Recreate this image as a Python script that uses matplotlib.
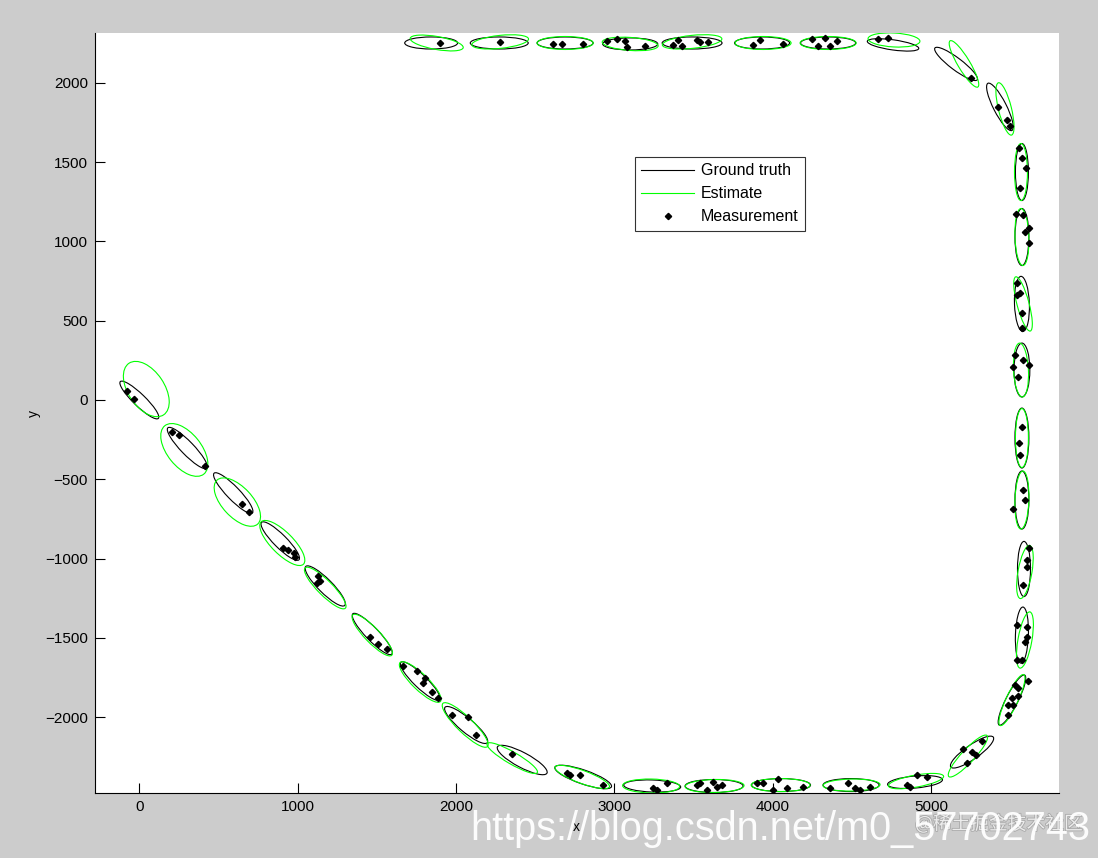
import numpy as np
import matplotlib
matplotlib.use('Agg')
import matplotlib.pyplot as plt
import matplotlib.patheffects as pe
from matplotlib.patches import Ellipse

# ground truth ellipses: centre, semi axes, angle (deg)
gt_x = [0, 303, 593, 890, 1174, 1471, 1774, 2064, 2418, 2803, 3239, 3630, 4053, 4495, 4899,
        5259, 5511, 5574, 5587, 5574, 5574, 5574, 5574, 5574, 5574, 5435, 5158, 4760, 4350,
        3933, 3491, 3100, 2689, 2273, 1843]
gt_y = [0, -303, -587, -890, -1173, -1476, -1773, -2050, -2271, -2378, -2435, -2435, -2429, -2429, -2410,
        -2221, -1893, -1483, -1066, -631, -240, 189, 606, 1028, 1438, 1849, 2120, 2240, 2252,
        2252, 2252, 2246, 2252, 2252, 2252]
gt_a = [167, 177, 174, 167, 174, 177, 170, 174, 177, 189, 180, 183, 186, 177, 174,
        164, 177, 177, 174, 183, 189, 170, 174, 180, 180, 167, 167, 164, 174,
        174, 189, 174, 177, 183, 167]
gt_b = [38, 41, 41, 41, 44, 41, 41, 44, 47, 44, 38, 41, 41, 41, 38,
        44, 38, 41, 41, 44, 44, 50, 47, 44, 41, 41, 38, 32, 38,
        38, 38, 38, 38, 38, 38]
gt_ang = [-44, -46, -46, -45, -45, -46, -44, -40, -28, -19, -2, 0, 0, 0, 5,
          35, 63, 88, 90, 90, 90, 90, 92, 90, 90, 117, 143, 172, 0,
          0, 0, 0, 0, 0, 0]

# estimated ellipses
est_x = [44, 284, 619, 903, 1174, 1471, 1774, 2058, 2355, 2797, 3232, 3633, 4050, 4498, 4905,
         5233, 5511, 5593, 5593, 5574, 5574, 5568, 5581, 5574, 5568, 5467, 5208, 4766, 4350,
         3939, 3491, 3100, 2689, 2279, 1878]
est_y = [69, -315, -644, -902, -1186, -1483, -1779, -2050, -2259, -2378, -2435, -2435, -2429, -2429, -2404,
         -2246, -1893, -1514, -1085, -631, -240, 189, 606, 1028, 1438, 1836, 2120, 2271, 2252,
         2252, 2259, 2246, 2252, 2259, 2252]
est_a = [196, 196, 189, 189, 180, 177, 177, 196, 183, 183, 180, 186, 186, 180, 177,
         177, 177, 180, 170, 183, 186, 170, 177, 180, 180, 170, 170, 164, 177,
         177, 189, 177, 177, 180, 170]
est_b = [114, 107, 95, 69, 47, 47, 50, 50, 38, 41, 44, 41, 41, 38, 38,
         41, 38, 44, 44, 44, 41, 47, 38, 44, 41, 41, 38, 44, 41,
         41, 41, 41, 41, 41, 41]
est_ang = [-56, -51, -47, -45, -45, -46, -44, -44, -30, -20, -1, 1, 0, 1, 10,
           47, 65, 80, 80, 88, 90, 93, 105, 92, 90, 104, 121, -3, 0,
           0, 6, -4, 0, 6, -10]

# measurements
meas_x = [-78, -36, 208, 253, 417, 650, 694, 909, 941, 979, 985, 1130, 1143, 1124,
          1458, 1509, 1566, 1667, 1755, 1805, 1793, 1850, 1888, 1976, 2077, 2127, 2355,
          2702, 2721, 2784, 2929, 3245, 3270, 3333, 3542, 3624, 3649, 3680, 3586, 3523,
          3939, 4034, 4091, 4192, 4002, 3901, 4362, 4476, 4520, 4615, 4552,
          4848, 4911, 4975, 4867, 5202, 5259, 5322, 5284, 5227,
          5530, 5612, 5549, 5511, 5486, 5518, 5486, 5549,
          5543, 5606, 5593, 5606, 5574, 5543, 5606, 5606, 5581, 5618,
          5581, 5593, 5518, 5555, 5562, 5574, 5530, 5581, 5618, 5518, 5549,
          5543, 5562, 5543, 5574, 5574, 5537, 5581, 5618, 5593, 5618,
          5555, 5574, 5600, 5562, 5423, 5480, 5499, 5252, 4665, 4728,
          4249, 4331, 4407, 4287, 4362, 3876, 3920, 4066,
          3403, 3428, 3523, 3542, 3592, 3371, 2954, 3018, 3068, 3194, 3081,
          2614, 2670, 2803, 2279, 1900]
meas_y = [59, 8, -202, -221, -416, -656, -707, -934, -946, -965, -991, -1110, -1142, -1155,
          -1495, -1539, -1571, -1678, -1710, -1754, -1785, -1842, -1880, -1987, -2000, -2114, -2233,
          -2353, -2366, -2366, -2429, -2448, -2461, -2416, -2416, -2410, -2442, -2429, -2461, -2429,
          -2416, -2391, -2448, -2442, -2461, -2416, -2448, -2416, -2448, -2442, -2461,
          -2429, -2366, -2379, -2442, -2202, -2221, -2151, -2240, -2290,
          -1798, -1773, -1867, -1880, -1924, -1924, -1987, -1817,
          -1420, -1432, -1527, -1495, -1640, -1640, -1009, -1054, -1167, -934,
          -568, -631, -688, -271, -347, -170, 284, 252, 221, 208, 145,
          738, 675, 662, 549, 454, 1173, 1167, 1085, 1060, 991,
          1590, 1527, 1464, 1338, 1849, 1767, 1729, 2031, 2278, 2284,
          2278, 2284, 2265, 2233, 2233, 2240, 2271, 2246,
          2271, 2233, 2271, 2259, 2259, 2240, 2265, 2278, 2265, 2233, 2227,
          2246, 2246, 2246, 2259, 2252]

plt.rcParams['font.family'] = ['Liberation Sans', 'DejaVu Sans']

fig = plt.figure(figsize=(10.98, 8.58), dpi=100, facecolor='#cccccc')
ax = fig.add_axes([95 / 1098, 64.7 / 858, 963.5 / 1098, 760.3 / 858])

for i in range(len(gt_x)):
    ax.add_patch(Ellipse((gt_x[i], gt_y[i]), 2 * gt_a[i], 2 * gt_b[i], angle=gt_ang[i],
                         fill=False, edgecolor='black', lw=0.8))
for i in range(len(est_x)):
    ax.add_patch(Ellipse((est_x[i], est_y[i]), 2 * est_a[i], 2 * est_b[i], angle=est_ang[i],
                         fill=False, edgecolor='#00ff00', lw=0.8))
ax.plot(meas_x, meas_y, 'kD', ms=3.2, ls='none')

# legend handles
ax.plot([], [], 'k-', lw=0.8, label='Ground truth')
ax.plot([], [], '-', color='#00ff00', lw=0.8, label='Estimate')
ax.plot([], [], 'kD', ms=3.2, ls='none', label='Measurement')
h, l = ax.get_legend_handles_labels()
leg = ax.legend(h[-3:], l[-3:], loc='upper left', bbox_to_anchor=(0.5605, 0.837), fontsize=11.5,
                frameon=True, fancybox=False, edgecolor='black', handlelength=3.3,
                handletextpad=0.4, labelspacing=0.5, borderpad=0.4, borderaxespad=0,
                numpoints=1)
leg.get_frame().set_linewidth(0.8)

ax.set_xlim(-280, 5805)
ax.set_ylim(-2481, 2315)
ax.set_xticks([0, 1000, 2000, 3000, 4000, 5000])
ax.set_yticks(np.arange(-2000, 2001, 500))
ax.tick_params(direction='in', length=7, width=0.8, labelsize=11, pad=5)
for s in ['top', 'right']:
    ax.spines[s].set_visible(False)
for s in ['left', 'bottom']:
    ax.spines[s].set_linewidth(0.8)
ax.set_xlabel('x', fontsize=10, labelpad=4)
ax.set_ylabel('y', fontsize=10, labelpad=3)

# watermark
fig.text(915 / 1098, 1 - 824 / 858, '@稀土掘金技术社区', fontsize=13.5, color='#ececec', va='center',
         family=['Noto Sans CJK SC', 'DejaVu Sans'],
         path_effects=[pe.withStroke(linewidth=1.2, foreground='#a8a8a8')])
fig.text(470 / 1098, 1 - 840 / 858, 'https://blog.csdn.net/m0_57702743', fontsize=28.6,
         color='white', alpha=0.95, va='baseline')

fig.savefig('out.png', dpi=100, facecolor='#cccccc')
